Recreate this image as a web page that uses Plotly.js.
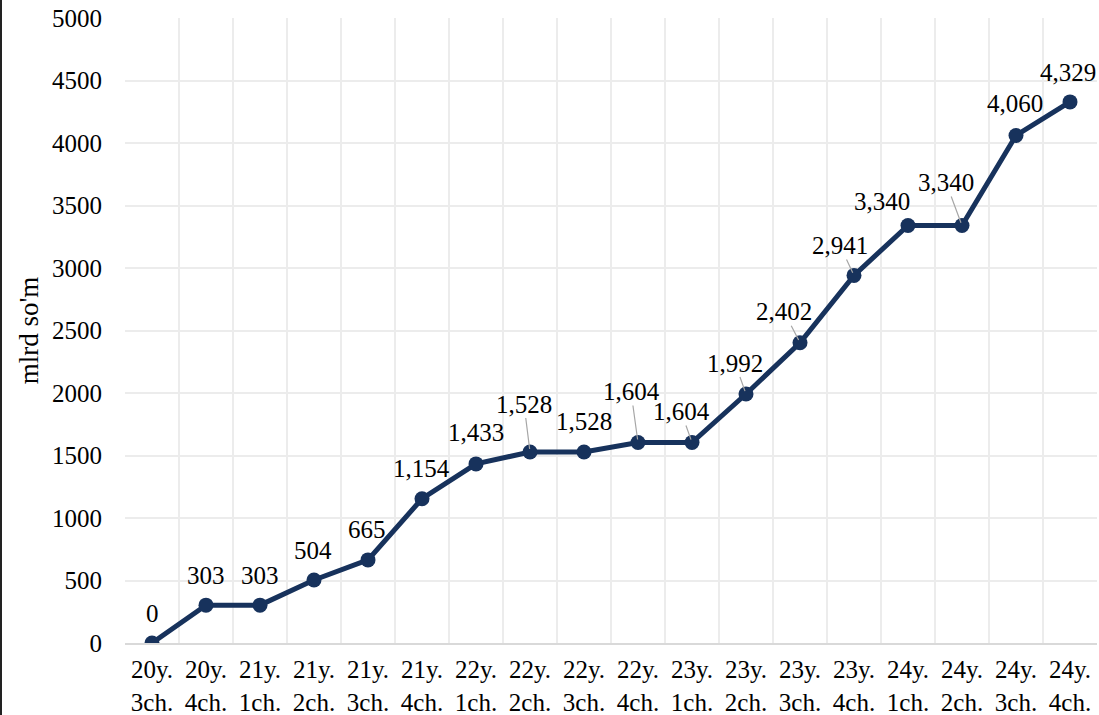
<!DOCTYPE html>
<html>
<head>
<meta charset="utf-8">
<script src="https://cdn.plot.ly/plotly-3.0.1.min.js"></script>
<style>html,body{margin:0;padding:0;background:#fff;}#chart{width:1099px;height:715px;}</style>
</head>
<body>
<div id="chart"></div>
<script>
const years = ["20y.","20y.","21y.","21y.","21y.","21y.","22y.","22y.","22y.","22y.","23y.","23y.","23y.","23y.","24y.","24y.","24y.","24y."];
const quarters = ["3ch.","4ch.","1ch.","2ch.","3ch.","4ch.","1ch.","2ch.","3ch.","4ch.","1ch.","2ch.","3ch.","4ch.","1ch.","2ch.","3ch.","4ch."];
const values = [0,303,303,504,665,1154,1433,1528,1528,1604,1604,1992,2402,2941,3340,3340,4060,4329];
const yTicks = [0,500,1000,1500,2000,2500,3000,3500,4000,4500,5000];
const yTitle = "mlrd so'm";

const categories = years.map((y,i)=> y + "<br>" + quarters[i]);

// label placement (pixel offsets of label centre relative to point) and leader flag
const labelOffsets = [
  [0,-30,0],[0,-30,0],[0,-30,0],[-1,-30,0],[-1,-30,0],[-1,-30,0],[0,-31,0],
  [-6,-48,1],[0,-31,0],[-7,-51,1],[-11,-31,1],[-11,-31,1],[-16,-31,1],[-14,-30,1],
  [-26,-24,0],[-16,-43,1],[-1,-32,0],[-2,-29,0]
];

const FONT = "Liberation Serif, Times New Roman, serif";
const FS = 25;
const lineColor = "#17325C";

const trace = {
  x: categories,
  y: values,
  type: "scatter",
  mode: "lines+markers",
  line: {color: lineColor, width: 5},
  marker: {color: lineColor, size: 15},
  hoverinfo: "x+y"
};

const annotations = values.map((v,i)=>({
  x: categories[i],
  y: v,
  xref: "x", yref: "y",
  text: v.toLocaleString("en-US"),
  showarrow: true,
  arrowhead: 0,
  arrowwidth: 1.2,
  arrowcolor: labelOffsets[i][2] ? "#a6a6a6" : "rgba(0,0,0,0)",
  standoff: 3,
  ax: labelOffsets[i][0],
  ay: labelOffsets[i][1],
  font: {family: FONT, size: FS, color: "#000"},
  borderpad: 0
}));

annotations.push({
  xref: "paper", yref: "paper", x: -0.099, y: 0.5,
  text: yTitle, showarrow: false, textangle: -90,
  font: {family: FONT, size: 27, color: "#000"},
  xanchor: "center", yanchor: "middle"
});

const layout = {
  width: 1099, height: 715,
  margin: {l: 125, r: 2, t: 18, b: 72, pad: 0},
  paper_bgcolor: "#fff", plot_bgcolor: "#fff",
  showlegend: false,
  font: {family: FONT, size: FS, color: "#000"},
  xaxis: {
    type: "category",
    range: [-0.5, 17.5],
    tickson: "boundaries",
    showgrid: true, gridcolor: "#ececec", gridwidth: 2,
    showline: true, linecolor: "#d9d9d9", linewidth: 2,
    ticks: "", ticklen: 0,
    ticklabelstandoff: 3,
    tickfont: {family: FONT, size: FS, color: "#000"},
    fixedrange: true
  },
  yaxis: {
    range: [0, 5000],
    tickvals: yTicks,
    ticktext: yTicks.map(String),
    showgrid: true, gridcolor: "#ececec", gridwidth: 2,
    zeroline: false, showline: false,
    ticks: "", ticklabelstandoff: 22,
    tickfont: {family: FONT, size: FS, color: "#000"},
    fixedrange: true
  },
  shapes: [{
    type: "line", xref: "paper", yref: "paper",
    x0: -124/972, x1: -124/972, y0: -72/625, y1: 1 + 18/625,
    line: {color: "#222", width: 2}
  }],
  annotations: annotations
};

Plotly.newPlot("chart", [trace], layout, {displayModeBar: false, staticPlot: true});
</script>
</body>
</html>
